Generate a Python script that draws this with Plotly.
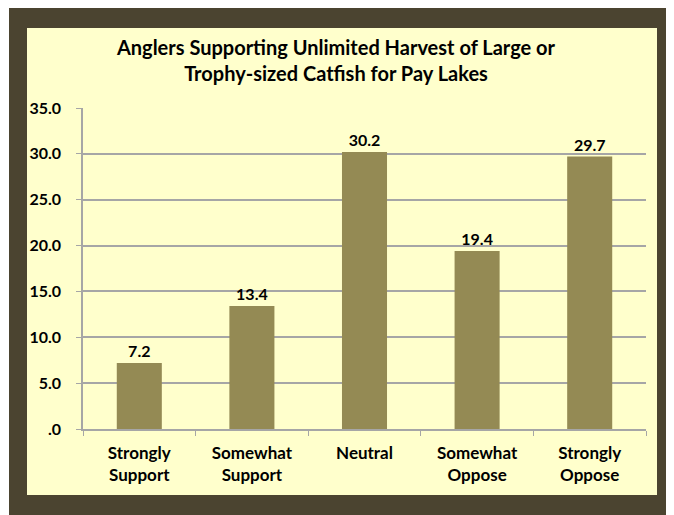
import plotly.graph_objects as go

categories = ["Strongly<br>Support", "Somewhat<br>Support", "Neutral", "Somewhat<br>Oppose", "Strongly<br>Oppose"]
values = [7.2, 13.4, 30.2, 19.4, 29.7]
y_ticks = [0, 5, 10, 15, 20, 25, 30, 35]
y_tick_labels = [".0", "5.0", "10.0", "15.0", "20.0", "25.0", "30.0", "35.0"]

# page is drawn with an 8px body margin, so work in page pixels minus 8
OFF = 8
W, H = 674 - OFF, 515 - OFF
L, R, T, B = 83 - OFF, 674 - 646, 108 - OFF, 515 - 429
pw, ph = W - L - R, H - T - B

def px_x(x):
    return (x - OFF - L) / pw

def px_y(y):
    return (H - B - (y - OFF)) / ph

font = "Lato"

fig = go.Figure()
fig.add_trace(go.Bar(
    x=categories, y=values,
    marker=dict(color="#948A54", line=dict(width=0)),
    width=0.4,
    text=[f"{v:.1f}" for v in values],
    textposition="outside",
    textfont=dict(family=font, size=16, color="#000000", weight="bold"),
    cliponaxis=False,
))

# dark frame and yellow panel
fig.add_shape(type="rect", xref="paper", yref="paper",
              x0=px_x(9), x1=px_x(670), y0=px_y(520), y1=px_y(6),
              fillcolor="#4B4430", line=dict(width=0), layer="below")
fig.add_shape(type="rect", xref="paper", yref="paper",
              x0=px_x(27), x1=px_x(657), y0=px_y(495), y1=px_y(28),
              fillcolor="#FFFFCC", line=dict(width=0), layer="below")

fig.update_layout(
    width=W, height=H,
    margin=dict(l=L, r=R, t=T, b=B),
    paper_bgcolor="#FFFFFF",
    plot_bgcolor="rgba(0,0,0,0)",
    showlegend=False,
    bargap=0.6,
    title=dict(
        text="Anglers Supporting Unlimited Harvest of Large or<br>Trophy-sized Catfish for Pay Lakes",
        x=(336 - OFF) / W, xanchor="center",
        y=1 - (55 - OFF) / H, yanchor="middle",
        font=dict(family=font, size=20, color="#000000", weight="bold"),
    ),
)
fig.update_xaxes(
    showline=True, linecolor="#A6A6A6", linewidth=1.5,
    ticks="outside", ticklen=5, tickcolor="#A6A6A6", tickson="boundaries",
    tickfont=dict(family=font, size=17, color="#000000", weight="bold"),
    ticklabelstandoff=8,
    showgrid=False, automargin=False,
)
fig.update_yaxes(
    range=[0, 35], tickvals=y_ticks, ticktext=y_tick_labels,
    showline=True, linecolor="#A6A6A6", linewidth=1.5,
    ticks="outside", ticklen=5, tickcolor="#A6A6A6",
    showgrid=True, gridcolor="#A6A6A6", gridwidth=1.5,
    tickfont=dict(family=font, size=16, color="#000000", weight="bold"),
    ticklabelstandoff=12,
    zeroline=False, automargin=False,
)

fig.write_html("out.html")
